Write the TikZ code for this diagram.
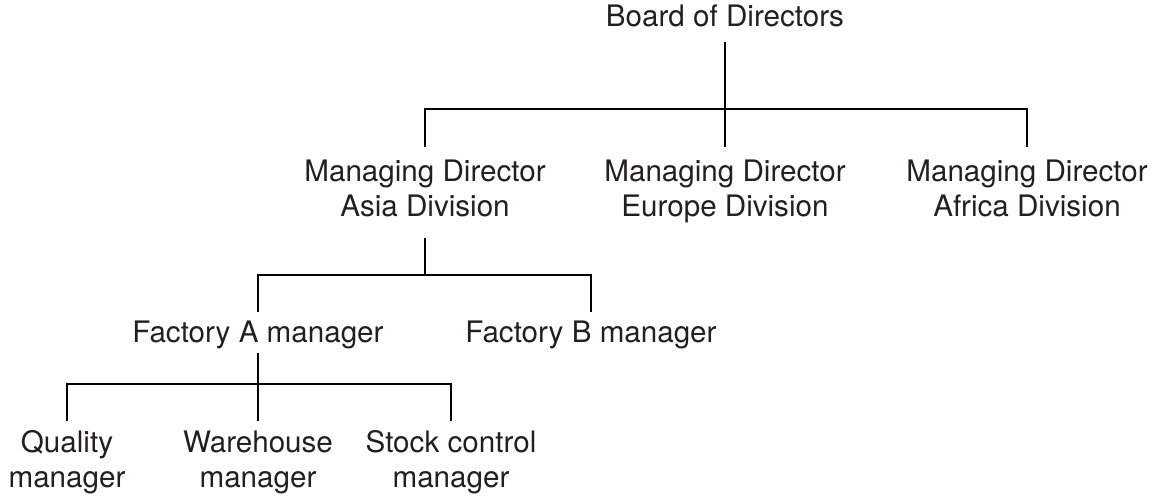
\documentclass[tikz,border=0pt]{standalone}
\usepackage{fontspec}
\setmainfont{TeX Gyre Heros}
\usetikzlibrary{calc}
\definecolor{txt}{HTML}{231F20}
\begin{document}
\begin{tikzpicture}[x=1pt,y=-1pt,
  lbl/.style={inner sep=0pt,anchor=base,align=center,text=txt,
    font=\fontsize{29.6}{35}\selectfont},
  conn/.style={line width=2pt,draw=black}]
\useasboundingbox (0,0) rectangle (1156,497);
% nodes (base anchor = baseline of the last line)
\node[lbl] (board) at (725,27) {Board of Directors};
\node[lbl] (asia) at (425,216) {Managing Director\\Asia Division};
\node[lbl] (europe) at (725,216) {Managing Director\\Europe Division};
\node[lbl] (africa) at (1027,216) {Managing Director\\Africa Division};
\node[lbl] (facA) at (258,342) {Factory A manager};
\node[lbl] (facB) at (591,342) {Factory B manager};
\node[lbl] (qual) at (67,487) {Quality\\manager};
\node[lbl] (ware) at (258,487) {Warehouse\\manager};
\node[lbl] (stock) at (451,487) {Stock control\\manager};
% bus coordinates
\coordinate (bus1) at (725,109);
\coordinate (bus2) at (425,275);
\coordinate (bus3) at (258,384);
% connectors
\draw[conn] ($(board.base)+(0,15)$) -- (bus1);
\draw[conn] ($(asia.base)+(0,-69)$) |- (bus1);
\draw[conn] ($(europe.base)+(0,-69)$) -- (bus1);
\draw[conn] ($(africa.base)+(0,-69)$) |- (bus1);
\draw[conn] ($(asia.base)+(0,22)$) -- (bus2);
\draw[conn] ($(facA.base)+(0,-30)$) |- (bus2);
\draw[conn] ($(facB.base)+(0,-30)$) |- (bus2);
\draw[conn] ($(facA.base)+(0,11)$) -- (bus3);
\draw[conn] ($(qual.base)+(0,-66)$) |- (bus3);
\draw[conn] ($(ware.base)+(0,-66)$) -- (bus3);
\draw[conn] ($(stock.base)+(0,-66)$) |- (bus3);
\end{tikzpicture}
\end{document}
